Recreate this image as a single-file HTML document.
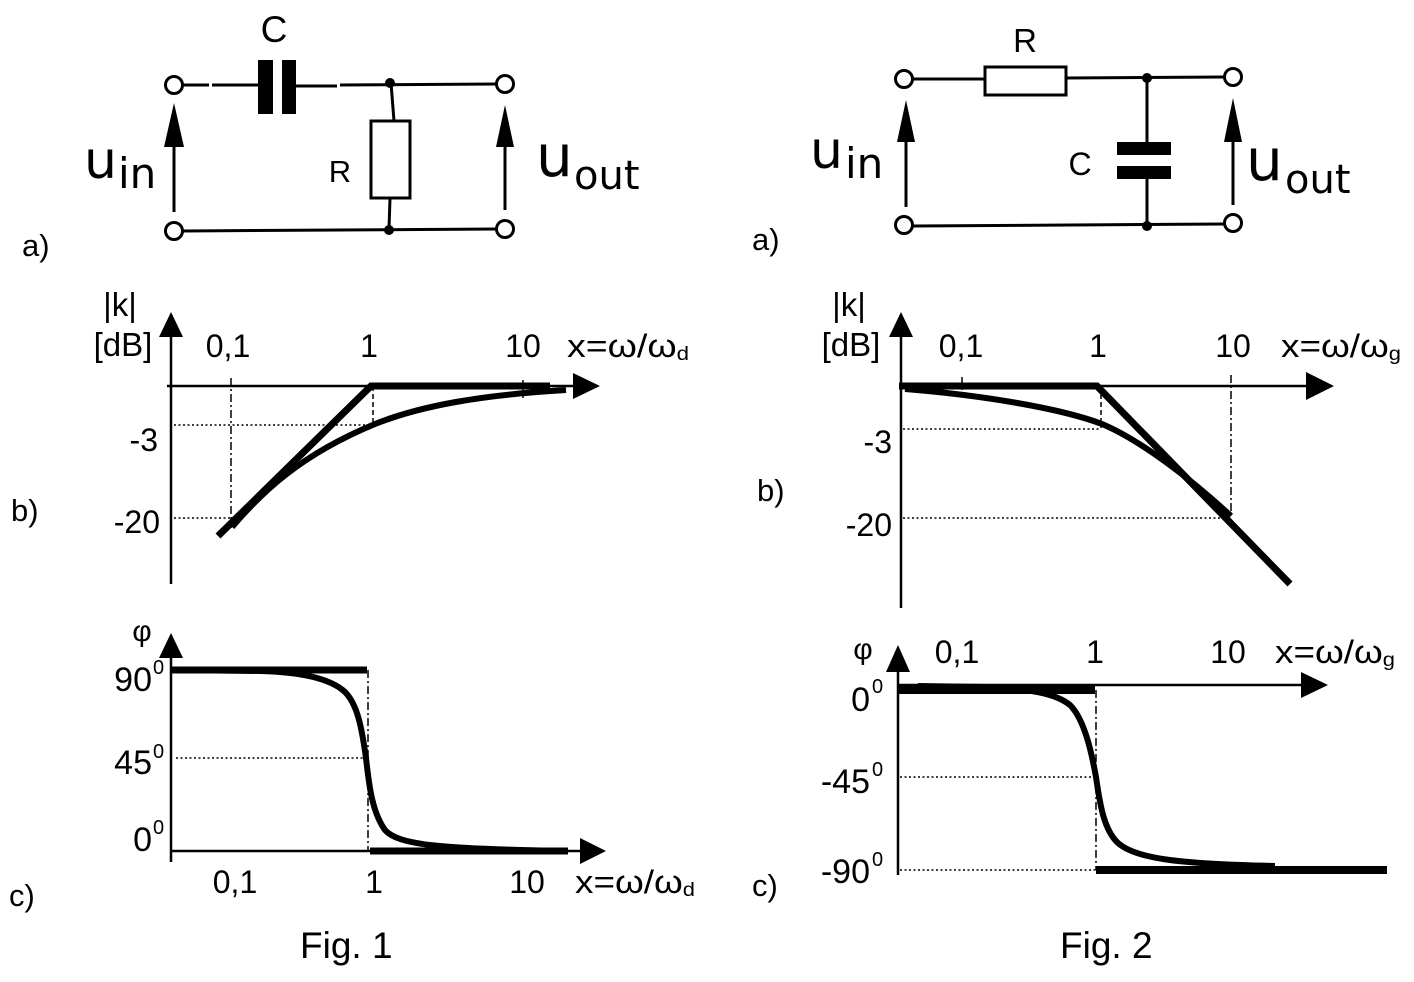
<!DOCTYPE html>
<html><head><meta charset="utf-8"><style>
html,body{margin:0;padding:0;background:#fff;}
svg{display:block;}
text{font-family:"Liberation Sans",sans-serif;fill:#000;}
.dv{font-family:"DejaVu Sans","Liberation Sans",sans-serif;}
</style></head><body>
<svg width="1414" height="982" viewBox="0 0 1414 982" xmlns="http://www.w3.org/2000/svg">
<rect width="1414" height="982" fill="#fff"/>
<g stroke="#000" fill="none" stroke-width="3">
  <!-- FIG 1 circuit -->
  <path d="M183,85 L209,85 M212,85 L258,85 M296,86 L337,86 M340,85 L497,84"/>
  <path d="M183,231 L497,229"/>
  <path d="M391,83 L394,121 M390,198 L389,229"/>
  <rect x="371" y="121" width="39" height="77"/>
  <path d="M174,147 L174,212 M505,147 L505,210"/>
  <!-- FIG 2 circuit -->
  <path d="M913,79 L985,79 M1066,78 L1224,77"/>
  <rect x="985" y="67" width="81" height="28"/>
  <path d="M1147,78 L1147,142 M1147,179 L1147,226"/>
  <path d="M913,226 L1224,224"/>
  <path d="M906,142 L906,207 M1233,142 L1233,205"/>
</g>
<g fill="#000">
  <rect x="258" y="60" width="15" height="54"/>
  <rect x="282" y="60" width="14" height="54"/>
  <circle cx="390" cy="83" r="5"/>
  <circle cx="389" cy="230" r="5"/>
  <polygon points="174,103 164,147 184,147"/>
  <polygon points="505,105 496,147 514,147"/>
  <rect x="1117" y="142" width="54" height="13"/>
  <rect x="1117" y="166" width="54" height="13"/>
  <circle cx="1147" cy="78" r="5"/>
  <circle cx="1147" cy="226" r="5"/>
  <polygon points="906,100 897,142 915,142"/>
  <polygon points="1233,98 1224,142 1242,142"/>
</g>
<g stroke="#000" fill="#fff" stroke-width="3">
  <circle cx="174" cy="85" r="8.5"/>
  <circle cx="505" cy="84" r="8.5"/>
  <circle cx="174" cy="231" r="8.5"/>
  <circle cx="505" cy="229" r="8.5"/>
  <circle cx="904" cy="79" r="8.5"/>
  <circle cx="1233" cy="77" r="8.5"/>
  <circle cx="904" cy="225" r="8.5"/>
  <circle cx="1233" cy="223" r="8.5"/>
</g>
<!-- circuit labels -->
<text x="274" y="42" font-size="37" text-anchor="middle">C</text>
<text x="340" y="182" font-size="31" text-anchor="middle">R</text>
<text class="dv" x="84" y="178" font-size="52">u</text>
<text class="dv" x="118" y="188" font-size="42">in</text>
<text class="dv" x="536" y="176" font-size="58">u</text>
<text class="dv" x="574" y="189" font-size="40">out</text>
<text x="22" y="256" font-size="31">a)</text>

<text x="1025" y="52" font-size="33" text-anchor="middle">R</text>
<text x="1080" y="175" font-size="32" text-anchor="middle">C</text>
<text class="dv" x="810" y="168" font-size="52">u</text>
<text class="dv" x="845" y="178" font-size="42">in</text>
<text class="dv" x="1246" y="180" font-size="58">u</text>
<text class="dv" x="1285" y="193" font-size="40">out</text>
<text x="752" y="250" font-size="31">a)</text>

<!-- FIG 1b -->
<g stroke="#000" fill="none">
  <path d="M171,335 L171,584" stroke-width="2.5"/>
  <path d="M167,386 L575,386" stroke-width="2.5"/>
  <path d="M231,378 L231,528" stroke-width="1.5" stroke-dasharray="8,3,2,3"/>
  <path d="M373,386 L373,424" stroke-width="1.5" stroke-dasharray="5,3"/>
  <path d="M523,380 L523,398" stroke-width="1.5"/>
  <path d="M174,425 L373,425 M174,518 L231,518" stroke-width="1.5" stroke-dasharray="2,2.5"/>
  <path d="M218,536 L371,386 L550,386" stroke-width="7" stroke-linejoin="miter"/>
  <path d="M232,527 C262,492 300,455 375,424 C420,406 480,395 566,390" stroke-width="6"/>
</g>
<g fill="#000">
  <polygon points="171,312 159,337 183,337"/>
  <polygon points="600,386 573,373 573,399"/>
</g>
<text x="120" y="316" font-size="33" text-anchor="middle">|k|</text>
<text x="123" y="356" font-size="33" text-anchor="middle">[dB]</text>
<text x="228" y="357" font-size="32" text-anchor="middle">0,1</text>
<text x="369" y="357" font-size="32" text-anchor="middle">1</text>
<text x="523" y="357" font-size="32" text-anchor="middle">10</text>
<text x="567" y="357" font-size="32" textLength="122" lengthAdjust="spacingAndGlyphs">x=ω/ω<tspan font-size="19" dy="3">d</tspan></text>
<text x="158" y="451" font-size="32" text-anchor="end">-3</text>
<text x="160" y="533" font-size="32" text-anchor="end">-20</text>
<text x="11" y="521" font-size="31">b)</text>

<!-- FIG 2b -->
<g stroke="#000" fill="none">
  <path d="M901,335 L901,608" stroke-width="2.5"/>
  <path d="M899,386 L1307,386" stroke-width="2.5"/>
  <path d="M962,377 L962,390" stroke-width="1.5"/>
  <path d="M1231,375 L1231,513" stroke-width="1.5" stroke-dasharray="8,3,2,3"/>
  <path d="M1101,386 L1101,428" stroke-width="1.5" stroke-dasharray="5,3"/>
  <path d="M903,429 L1101,429 M903,518 L1231,518" stroke-width="1.5" stroke-dasharray="2,2.5"/>
  <path d="M899,386 L1097,386 L1290,584" stroke-width="7" stroke-linejoin="miter"/>
  <path d="M905,389 C980,395 1060,408 1102,424 C1140,440 1190,478 1231,516" stroke-width="6"/>
</g>
<g fill="#000">
  <polygon points="901,312 889,337 913,337"/>
  <polygon points="1334,386 1306,372 1306,400"/>
</g>
<text x="849" y="316" font-size="33" text-anchor="middle">|k|</text>
<text x="851" y="356" font-size="33" text-anchor="middle">[dB]</text>
<text x="961" y="357" font-size="32" text-anchor="middle">0,1</text>
<text x="1098" y="357" font-size="32" text-anchor="middle">1</text>
<text x="1233" y="357" font-size="32" text-anchor="middle">10</text>
<text x="1281" y="357" font-size="32" textLength="120" lengthAdjust="spacingAndGlyphs">x=ω/ω<tspan font-size="19" dy="3">g</tspan></text>
<text x="892" y="453" font-size="32" text-anchor="end">-3</text>
<text x="892" y="536" font-size="32" text-anchor="end">-20</text>
<text x="757" y="501" font-size="31">b)</text>

<!-- FIG 1c -->
<g stroke="#000" fill="none">
  <path d="M171,657 L171,862" stroke-width="2.5"/>
  <path d="M171,851 L580,851" stroke-width="2.5"/>
  <path d="M368,670 L368,851" stroke-width="1.5" stroke-dasharray="8,3,2,3"/>
  <path d="M176,758 L368,758" stroke-width="1.5" stroke-dasharray="2,2.5"/>
  <path d="M171,670 L367,670" stroke-width="7"/>
  <path d="M370,851 L568,851" stroke-width="7"/>
  <path d="M171,670 L260,671 C300,672 330,678 345,692 C358,705 362,730 366,758 C369,785 372,812 385,830 C398,845 440,849 568,851" stroke-width="6"/>
</g>
<g fill="#000">
  <polygon points="171,633 159,658 183,658"/>
  <polygon points="606,851 580,838 580,864"/>
</g>
<text x="142" y="641" font-size="30" text-anchor="middle">φ</text>
<text x="152" y="691" font-size="34" text-anchor="end">90</text>
<text x="153" y="674" font-size="20">0</text>
<text x="152" y="774" font-size="34" text-anchor="end">45</text>
<text x="153" y="758" font-size="20">0</text>
<text x="152" y="851" font-size="34" text-anchor="end">0</text>
<text x="153" y="834" font-size="20">0</text>
<text x="235" y="893" font-size="32" text-anchor="middle">0,1</text>
<text x="374" y="893" font-size="32" text-anchor="middle">1</text>
<text x="527" y="893" font-size="32" text-anchor="middle">10</text>
<text x="575" y="893" font-size="32" textLength="120" lengthAdjust="spacingAndGlyphs">x=ω/ω<tspan font-size="19" dy="3">d</tspan></text>
<text x="9" y="906" font-size="31">c)</text>
<text x="300" y="958" font-size="37">Fig. 1</text>

<!-- FIG 2c -->
<g stroke="#000" fill="none">
  <path d="M898,671 L898,875" stroke-width="2.5"/>
  <path d="M898,685 L1302,685" stroke-width="2.5"/>
  <path d="M1096,690 L1096,870" stroke-width="1.5" stroke-dasharray="8,3,2,3"/>
  <path d="M900,777 L1096,777 M900,870 L1096,870" stroke-width="1.5" stroke-dasharray="2,2.5"/>
  <path d="M898,690 L1095,690" stroke-width="8"/>
  <path d="M1096,870 L1387,870" stroke-width="8"/>
  <path d="M918,686 L985,687 C1030,689 1055,693 1070,705 C1085,720 1092,755 1096,777 C1100,805 1104,830 1118,843 C1135,858 1175,864 1275,866" stroke-width="6"/>
</g>
<g fill="#000">
  <polygon points="898,645 886,672 910,672"/>
  <polygon points="1328,685 1301,672 1301,698"/>
</g>
<text x="863" y="659" font-size="30" text-anchor="middle">φ</text>
<text x="957" y="663" font-size="32" text-anchor="middle">0,1</text>
<text x="1095" y="663" font-size="32" text-anchor="middle">1</text>
<text x="1228" y="663" font-size="32" text-anchor="middle">10</text>
<text x="1275" y="663" font-size="32" textLength="120" lengthAdjust="spacingAndGlyphs">x=ω/ω<tspan font-size="19" dy="3">g</tspan></text>
<text x="870" y="711" font-size="34" text-anchor="end">0</text>
<text x="872" y="693" font-size="20">0</text>
<text x="870" y="793" font-size="34" text-anchor="end">-45</text>
<text x="872" y="776" font-size="20">0</text>
<text x="870" y="883" font-size="34" text-anchor="end">-90</text>
<text x="872" y="866" font-size="20">0</text>
<text x="752" y="896" font-size="31">c)</text>
<text x="1060" y="958" font-size="37">Fig. 2</text>
</svg>
</body></html>
